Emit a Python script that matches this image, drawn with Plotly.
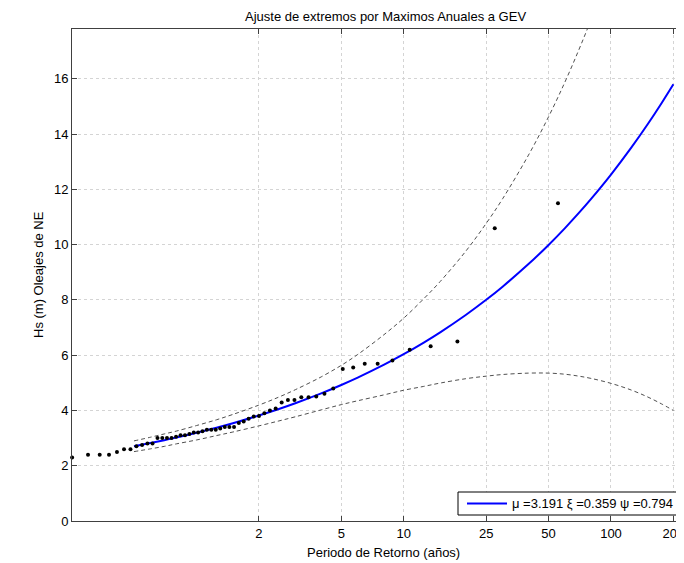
import plotly.graph_objects as go

# ---------------- data ----------------
# empirical points: return period (years) and Hs (m)
obs_T = [0.2515, 0.3001, 0.3417, 0.3789, 0.4139, 0.4477, 0.4809, 0.5139, 0.5470, 0.5805,
         0.6144, 0.6492, 0.6848, 0.7213, 0.7591, 0.7982, 0.8388, 0.8811, 0.9251, 0.9713,
         1.0195, 1.0703, 1.1239, 1.1802, 1.2400, 1.3034, 1.3708, 1.4427, 1.5196, 1.6022,
         1.6910, 1.7869, 1.8909, 2.0040, 2.1277, 2.2633, 2.4129, 2.5789, 2.7640, 2.9720,
         3.2074, 3.4761, 3.7857, 4.1466, 4.5727, 5.0837, 5.7078, 6.4872, 7.4890, 8.8240,
         10.692, 13.494, 18.163, 27.497, 55.498]
obs_hs = [2.30, 2.40, 2.40, 2.40, 2.50, 2.60, 2.60, 2.70, 2.75, 2.80,
          2.80, 3.00, 3.00, 3.00, 3.00, 3.05, 3.10, 3.10, 3.15, 3.20,
          3.20, 3.25, 3.30, 3.30, 3.30, 3.35, 3.40, 3.40, 3.40, 3.55,
          3.60, 3.70, 3.78, 3.80, 3.90, 4.00, 4.07, 4.29, 4.38, 4.38,
          4.48, 4.48, 4.50, 4.60, 4.79, 5.50, 5.55, 5.69, 5.69, 5.81,
          6.20, 6.32, 6.49, 10.59, 11.50]

# fitted GEV curve and confidence band
curve_T = [0.5, 0.6, 0.7, 0.8, 1, 1.25, 1.5, 2, 2.5, 3, 4, 5, 6, 8, 10, 12.5, 15,
           20, 25, 30, 40, 50, 60, 70, 80, 100, 125, 150, 175, 200]
fit_hs = [2.704, 2.820, 2.925, 3.021, 3.191, 3.376, 3.538, 3.816, 4.052, 4.260,
          4.617, 4.921, 5.187, 5.645, 6.034, 6.456, 6.827, 7.463, 8.003, 8.478,
          9.294, 9.988, 10.598, 11.145, 11.644, 12.533, 13.497, 14.343, 15.104, 15.798]
upper_hs = [2.898, 3.030, 3.150, 3.252, 3.452, 3.662, 3.856, 4.192, 4.484, 4.750,
            5.214, 5.632, 6.024, 6.730, 7.338, 8.042, 8.664, 9.776, 10.766, 11.656,
            13.238, 14.626, 15.886, 17.050, 18.128, 20.086, 22.254, 24.196, 25.968, 27.596]
lower_hs = [2.510, 2.610, 2.700, 2.790, 2.930, 3.090, 3.220, 3.440, 3.620, 3.770,
            4.020, 4.210, 4.350, 4.560, 4.730, 4.870, 4.990, 5.150, 5.240, 5.300,
            5.350, 5.350, 5.310, 5.240, 5.160, 4.980, 4.740, 4.490, 4.240, 4.000]

x_ticks = [2, 5, 10, 25, 50, 100, 200]
y_ticks = [0, 2, 4, 6, 8, 10, 12, 14, 16]
legend_label = "\u03bc =3.191 \u03be =0.359 \u03c8 =0.794"
title_text = "Ajuste de extremos por Maximos Anuales a GEV"
x_label = "Periodo de Retorno (años)"
y_label = "Hs (m) Oleajes de NE"

# ---------------- figure ----------------
FONT = "Liberation Sans, Arial, sans-serif"
AX = "#404040"
BAND = "#505050"

fig = go.Figure()
fig.add_trace(go.Scatter(x=curve_T, y=upper_hs, mode="lines", showlegend=False,
                         line=dict(color=BAND, width=1, dash="4px,3px", shape="spline")))
fig.add_trace(go.Scatter(x=curve_T, y=lower_hs, mode="lines", showlegend=False,
                         line=dict(color=BAND, width=1, dash="4px,3px", shape="spline")))
fig.add_trace(go.Scatter(x=curve_T, y=fit_hs, mode="lines", name=legend_label,
                         showlegend=False,
                         line=dict(color="#0000ff", width=2, shape="spline")))
fig.add_trace(go.Scatter(x=obs_T, y=obs_hs, mode="markers", showlegend=False,
                         cliponaxis=False,
                         marker=dict(color="black", size=4, symbol="circle")))

# page body has an 8px margin: figure occupies page pixels 8..684 x 8..563
W, H = 676, 555
ml, mr, mt, mb = 64, 0, 21, 42
pw = W - ml - mr      # 612
ph = H - mt - mb      # 492


def px(page_x):
    return (page_x - 72) / pw


def py(page_y):
    return (521 - page_y) / ph


fig.update_layout(
    width=W, height=H,
    margin=dict(l=ml, r=mr, t=mt, b=mb, pad=0),
    paper_bgcolor="white", plot_bgcolor="white",
    font=dict(family=FONT, size=13, color="black"),
    showlegend=False,
)

fig.update_xaxes(
    type="log", range=[-0.6000, 2.3522],
    tickvals=x_ticks, ticktext=[str(v) for v in x_ticks],
    ticks="inside", ticklen=5, tickcolor=AX,
    showline=True, linecolor=AX, linewidth=1, mirror="ticks",
    showgrid=True, gridcolor="#d4d4d4", griddash="dot", gridwidth=1,
    zeroline=False, tickfont=dict(size=13, color="black"),
    ticklabeloverflow="allow",
)
fig.update_yaxes(
    range=[0, 17.8], tickvals=y_ticks,
    ticks="inside", ticklen=5, tickcolor=AX,
    showline=True, linecolor=AX, linewidth=1, mirror=False,
    showgrid=True, gridcolor="#d4d4d4", griddash="dot", gridwidth=1,
    zeroline=False, tickfont=dict(size=13, color="black"),
)

# legend box (drawn to match the reference's compact MATLAB legend)
fig.add_shape(type="rect", xref="paper", yref="paper",
              x0=px(458), x1=px(700), y0=py(515), y1=py(492),
              fillcolor="white", line=dict(color="black", width=1), layer="above")
fig.add_shape(type="line", xref="paper", yref="paper",
              x0=px(467), x1=px(507), y0=py(503.5), y1=py(503.5),
              line=dict(color="#0000ff", width=2), layer="above")
fig.add_annotation(text=legend_label, xref="paper", yref="paper",
                   x=px(510), y=py(503.5), xanchor="left", yanchor="middle",
                   showarrow=False, font=dict(family=FONT, size=13, color="black"))

fig.add_annotation(text=title_text, xref="paper", yref="paper",
                   x=px(385), y=py(17), xanchor="center", yanchor="middle",
                   showarrow=False, font=dict(family=FONT, size=13, color="black"))
fig.add_annotation(text=x_label, xref="paper", yref="paper",
                   x=px(383), y=py(552), xanchor="center", yanchor="middle",
                   showarrow=False, font=dict(family=FONT, size=13, color="black"))
fig.add_annotation(text=y_label, xref="paper", yref="paper", textangle=-90,
                   x=px(38), y=0.5, xanchor="center", yanchor="middle",
                   showarrow=False, font=dict(family=FONT, size=13, color="black"))

fig.write_html("out.html")
